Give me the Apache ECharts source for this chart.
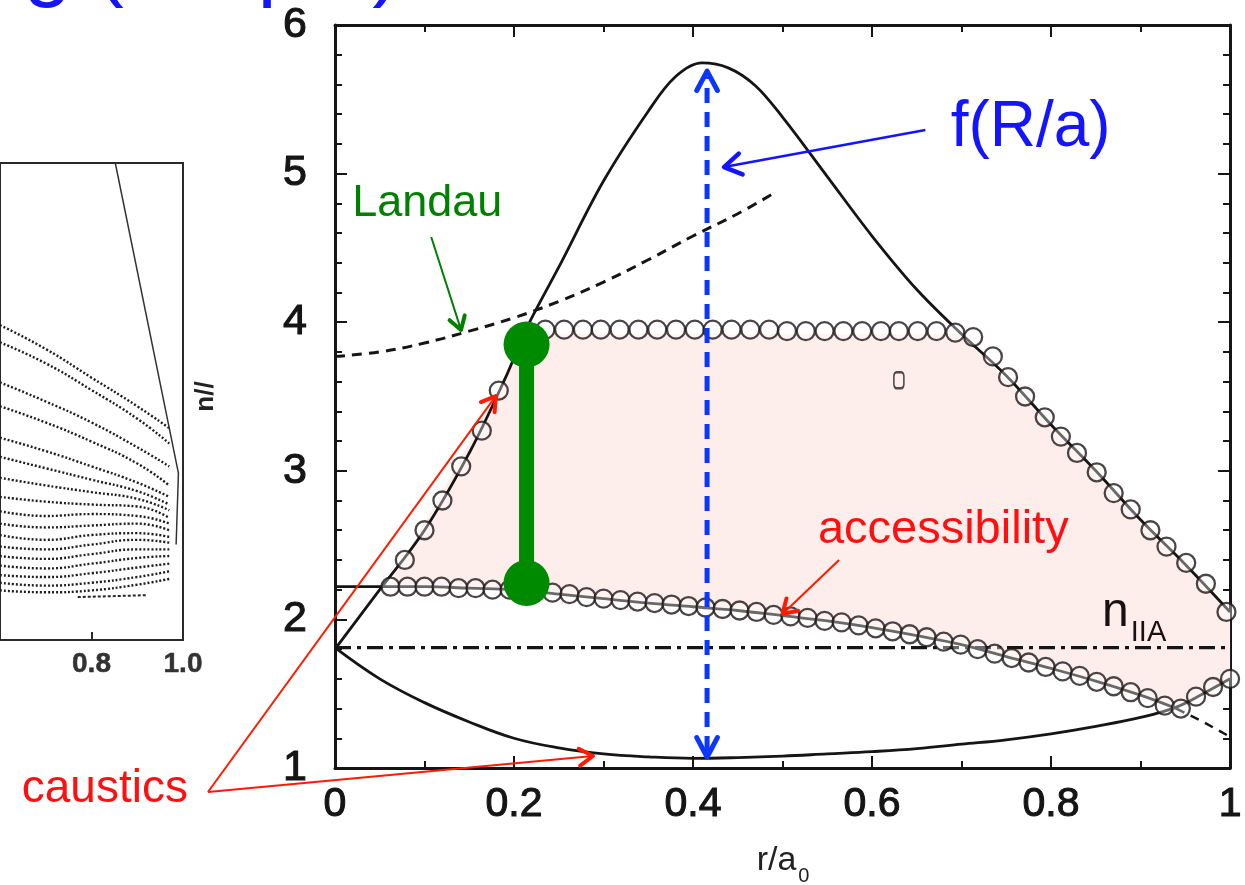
<!DOCTYPE html>
<html><head><meta charset="utf-8">
<script src="https://cdn.jsdelivr.net/npm/echarts@6/dist/echarts.min.js"></script>
<style>html,body{margin:0;padding:0;background:#fff}#c{width:1245px;height:885px}</style>
</head><body><div id="c"></div>
<script>
// ---------------- data ----------------
const upperCaustic = [[0,1.80],[0.05,2.20],[0.1,2.60],[0.15,3.12],[0.19,3.62],[0.215,3.97],[0.25,4.37],[0.3,4.95],[0.35,5.42],[0.38,5.65],[0.41,5.745],[0.44,5.71],[0.47,5.59],[0.5,5.38],[0.55,4.98],[0.6,4.58],[0.65,4.22],[0.7,3.92],[0.75,3.64],[0.8,3.31],[0.85,3.00],[0.9,2.67],[0.95,2.37],[1.0,2.05]];
const lowerCaustic = [[0,1.81],[0.05,1.60],[0.1,1.44],[0.15,1.31],[0.2,1.20],[0.25,1.135],[0.3,1.095],[0.35,1.075],[0.4,1.065],[0.45,1.07],[0.5,1.08],[0.55,1.095],[0.6,1.11],[0.65,1.13],[0.7,1.16],[0.75,1.19],[0.8,1.23],[0.85,1.28],[0.9,1.34],[0.94,1.41],[0.97,1.50],[1.0,1.60]];
const landau = [[0,3.77],[0.05,3.80],[0.1,3.86],[0.15,3.94],[0.2,4.03],[0.25,4.14],[0.3,4.27],[0.35,4.42],[0.4,4.58],[0.45,4.73],[0.488,4.86]];
const nParA = [[0,1.81],[1,1.81]];
const accessLine = [[0,2.22],[0.05,2.22],[0.1,2.22],[0.15,2.21],[0.2,2.20],[0.25,2.17],[0.3,2.14],[0.35,2.11],[0.4,2.085],[0.45,2.06],[0.5,2.025],[0.55,1.99],[0.6,1.945],[0.65,1.89],[0.7,1.83],[0.75,1.75],[0.8,1.67],[0.85,1.585],[0.9,1.49],[0.94,1.40]];
const accessTail = [[0.94,1.40],[0.97,1.31],[1.0,1.21]];
const risingMarkers = [[0.078,2.40],[0.100,2.60],[0.120,2.80],[0.141,3.03],[0.164,3.27],[0.183,3.54]];
const plateauMarkers = [[0.235,3.95],[0.256,3.95],[0.277,3.95],[0.297,3.95],[0.318,3.95],[0.339,3.95],[0.360,3.95],[0.381,3.95],[0.402,3.95],[0.422,3.95],[0.443,3.95],[0.464,3.95],[0.485,3.95],[0.505,3.94],[0.526,3.94],[0.547,3.94],[0.568,3.94],[0.589,3.94],[0.610,3.94],[0.630,3.94],[0.651,3.94],[0.672,3.94],[0.693,3.93]];
const descendMarkers = [[0.713,3.90],[0.735,3.77],[0.752,3.63],[0.771,3.50],[0.793,3.36],[0.811,3.23],[0.829,3.12],[0.851,2.99],[0.870,2.85],[0.889,2.74],[0.911,2.60],[0.929,2.49],[0.951,2.38],[0.973,2.24],[0.996,2.05]];
const accessMarkers = [[0.062,2.22],[0.081,2.22],[0.100,2.22],[0.119,2.22],[0.138,2.21],[0.157,2.21],[0.176,2.20],[0.195,2.20],[0.243,2.18],[0.262,2.17],[0.281,2.15],[0.300,2.14],[0.319,2.13],[0.338,2.12],[0.357,2.11],[0.376,2.10],[0.395,2.09],[0.414,2.08],[0.433,2.07],[0.452,2.06],[0.471,2.05],[0.490,2.03],[0.509,2.02],[0.528,2.01],[0.547,1.99],[0.566,1.98],[0.585,1.96],[0.604,1.94],[0.623,1.92],[0.642,1.90],[0.661,1.88],[0.680,1.85],[0.699,1.83],[0.718,1.80],[0.737,1.77],[0.756,1.74],[0.775,1.71],[0.794,1.68],[0.813,1.65],[0.832,1.62],[0.851,1.58],[0.870,1.55],[0.889,1.51],[0.908,1.47],[0.927,1.42],[0.945,1.40],[0.962,1.48],[0.981,1.545],[1.0,1.60]];
const squareMarker = [[0.630,3.61]];
const accessibleRegion = [[0.06,2.22],[0.19,3.62],[0.215,3.92],[0.70,3.92],[1.0,2.05],[1.0,1.60],[0.97,1.50],[0.94,1.40],[0.9,1.49],[0.85,1.585],[0.8,1.67],[0.75,1.75],[0.7,1.83],[0.65,1.89],[0.6,1.945],[0.55,1.99],[0.5,2.025],[0.45,2.06],[0.4,2.085],[0.35,2.11],[0.3,2.14],[0.25,2.17],[0.2,2.20],[0.15,2.21],[0.1,2.22]];
const landauRange = [[0.214,2.245],[0.214,3.85]];
const fRaRange = [[0.4157,1.074],[0.4157,5.69]];
// left (scanned) panel: ray trajectories n// at r/a = rayX
const rayX = [0.6,0.7,0.8,0.9,0.97];
const rays = [
  [4.30,4.05,3.75,3.45,3.22],[4.12,3.90,3.62,3.32,3.06],[3.70,3.50,3.28,3.02,2.82],[3.45,3.28,3.08,2.85,2.62],
  [3.12,2.98,2.82,2.65,2.50],[2.92,2.80,2.68,2.56,2.42],[2.70,2.62,2.55,2.48,2.36],[2.50,2.45,2.42,2.40,2.28],
  [2.35,2.30,2.32,2.30,2.22],[2.22,2.18,2.20,2.22,2.15],[2.10,2.05,2.10,2.12,2.08],[1.98,1.95,2.00,2.05,2.02],
  [1.88,1.85,1.90,1.95,1.95],[1.78,1.75,1.80,1.86,1.88],[1.68,1.66,1.70,1.76,1.80],[1.60,1.57,1.60,1.66,1.72],
  [1.52,1.50,1.52,1.58,1.64]
];
const shortRay = [[0.77,1.45],[0.85,1.46],[0.92,1.47]];
const leftCaustic = [[0.852,6.0],[0.99,2.75],[0.985,2.0]];
// annotations (anchors in data coordinates of the main panel)
const labelTexts = [
  {t:'f(R/a)', p:[0.7772,5.307], size:64, color:'#1414ff', align:'center'},
  {t:'Landau', p:[0.1031,4.795], size:45, color:'#008000', align:'center'},
  {t:'accessibility', p:[0.6796,2.602], size:47, color:'#ff1010', align:'center'},
  {t:'caustics', p:[-0.2572,0.8587], size:46, color:'#ff1010', align:'center'},
  {t:'n', p:[0.857,2.043], size:48, color:'#1a1010', align:'left'},
  {t:'IIA', p:[0.8891,1.9085], size:29, color:'#1a1010', align:'left'},
  {t:'r/a', p:[0.4933,0.374], size:34, color:'#222', align:'center'},
  {t:'0', p:[0.5177,0.273], size:20, color:'#222', align:'left'}
];
const annotationArrows = [
  {from:[0.6596,5.293], to:[0.4346,5.044], color:'#1414ff', w:2.5, head:20},
  {from:[0.1075,4.573], to:[0.1408,3.948], color:'#008000', w:2, head:15},
  {from:[0.5632,2.40], to:[0.50,2.036], color:'#ff1a00', w:2, head:16},
  {from:[-0.1419,0.8385], to:[0.1796,3.503], color:'#ff1a00', w:2, head:16},
  {from:[-0.1419,0.8385], to:[0.2882,1.0808], color:'#ff1a00', w:2, head:16}
];

// ---------------- chart ----------------
const FONT = '"Liberation Sans", Arial, Helvetica, sans-serif';
const INK = '#151515';
const chart = echarts.init(document.getElementById('c'));

function chevron(p0, p1, len, deg, color, w) {
  const ang = Math.atan2(p1[1]-p0[1], p1[0]-p0[0]);
  const a = deg*Math.PI/180;
  return {type:'polyline', shape:{points:[
    [p1[0]-len*Math.cos(ang-a), p1[1]-len*Math.sin(ang-a)], p1,
    [p1[0]-len*Math.cos(ang+a), p1[1]-len*Math.sin(ang+a)]]},
    style:{stroke:color, lineWidth:w, fill:null, lineCap:'round', lineJoin:'round'}};
}

const mainAxisCommon = {
  type:'value', gridIndex:0,
  axisLine:{show:true, onZero:false, lineStyle:{color:INK, width:3}},
  axisTick:{show:true, inside:true, length:12, lineStyle:{color:INK, width:2}},
  splitLine:{show:false}
};

const series = [];
series.push({type:'custom', xAxisIndex:0, yAxisIndex:0, z:1, silent:true, data:[[0.5,3]],
  renderItem:(params, api) => ({type:'polygon', shape:{points: accessibleRegion.map(p=>api.coord(p))}, style:{fill:'#fdeeec'}})});

rays.forEach(r => series.push({type:'line', xAxisIndex:2, yAxisIndex:2, data:rayX.map((x,i)=>[x,r[i]]), smooth:true, symbol:'none', silent:true,
  lineStyle:{color:'#1e1e1e', width:2.4, type:[2,2]}}));
series.push({type:'line', xAxisIndex:2, yAxisIndex:2, data:shortRay, symbol:'none', silent:true, lineStyle:{color:'#262626', width:2, type:[3,2]}});
series.push({type:'line', xAxisIndex:2, yAxisIndex:2, data:leftCaustic, symbol:'none', silent:true, lineStyle:{color:'#333', width:1.5}});

const lineCommon = {type:'line', xAxisIndex:0, yAxisIndex:0, symbol:'none', silent:true, z:2};
series.push(Object.assign({}, lineCommon, {data:upperCaustic, smooth:0.35, lineStyle:{color:INK, width:2.8}}));
series.push(Object.assign({}, lineCommon, {data:lowerCaustic, smooth:0.4, lineStyle:{color:INK, width:2.8}}));
series.push(Object.assign({}, lineCommon, {data:landau, smooth:0.4, lineStyle:{color:INK, width:3, type:[10,7]}}));
series.push(Object.assign({}, lineCommon, {data:nParA, lineStyle:{color:INK, width:3.2, type:[16,6,4,6]}}));
series.push(Object.assign({}, lineCommon, {data:accessLine, smooth:0.4, lineStyle:{color:INK, width:2.8}}));
series.push(Object.assign({}, lineCommon, {data:accessTail, lineStyle:{color:INK, width:2.5, type:[9,7]}}));

const markerStyle = {color:'rgba(255,255,255,0.45)', borderColor:'#1e1616', borderWidth:2.3};
[risingMarkers, plateauMarkers, descendMarkers, accessMarkers].forEach(m => series.push({type:'scatter', xAxisIndex:0, yAxisIndex:0, data:m,
  symbol:'circle', symbolSize:18, itemStyle:markerStyle, silent:true, z:3}));
series.push({type:'scatter', xAxisIndex:0, yAxisIndex:0, data:squareMarker, symbol:'roundRect', symbolSize:[10,16],
  itemStyle:{color:'rgba(255,255,255,0)', borderColor:'#222', borderWidth:2}, silent:true, z:3});

series.push({type:'line', xAxisIndex:0, yAxisIndex:0, data:landauRange, symbol:'circle', symbolSize:46, showSymbol:true, silent:true, z:5,
  itemStyle:{color:'#008a00'}, lineStyle:{color:'#008a00', width:15}});

series.push({type:'custom', xAxisIndex:0, yAxisIndex:0, z:6, silent:true, data:[[0.5,3]],
  renderItem:(params, api) => {
    const a = api.coord(fRaRange[0]), b = api.coord(fRaRange[1]);
    return {type:'group', children:[
      {type:'line', shape:{x1:a[0], y1:a[1]-6, x2:b[0], y2:b[1]+6}, style:{stroke:'#0a36ff', lineWidth:5, lineDash:[15,9]}},
      chevron(a, b, 22, 28, '#0a36ff', 5), chevron(b, a, 22, 28, '#0a36ff', 5)]};
  }});

series.push({type:'custom', xAxisIndex:0, yAxisIndex:0, z:7, silent:true, data:[[0.5,3]],
  renderItem:(params, api) => {
    const children = [];
    annotationArrows.forEach(ar => {
      const p0 = api.coord(ar.from), p1 = api.coord(ar.to);
      children.push({type:'line', shape:{x1:p0[0], y1:p0[1], x2:p1[0], y2:p1[1]}, style:{stroke:ar.color, lineWidth:ar.w}});
      children.push(chevron(p0, p1, ar.head, 32, ar.color, ar.w+2));
    });
    labelTexts.forEach(l => {
      const p = api.coord(l.p);
      children.push({type:'text', x:p[0], y:p[1], style:{text:l.t, fill:l.color, font:l.size+'px '+FONT, align:l.align, verticalAlign:'middle'}});
    });
    return {type:'group', children};
  }});

chart.setOption({
  animation:false,
  backgroundColor:'#fff',
  graphic:[{type:'text', x:401, y:-34, style:{text:'Ray tracing (simple)', font:'86px '+FONT, fill:'#1414ff', align:'right', verticalAlign:'middle'}}],
  grid:[
    {left:335, top:25, width:902, height:743, show:false},
    {left:-9, top:163, width:192, height:477, show:true, borderColor:'#2a2a2a', borderWidth:2, backgroundColor:'#fff'}
  ],
  xAxis:[
    Object.assign({}, mainAxisCommon, {position:'bottom', min:0, max:1, interval:0.2,
      minorTick:{show:true, splitNumber:2, length:7, lineStyle:{color:INK, width:2}},
      axisLabel:{margin:16, fontSize:41, fontFamily:FONT, color:INK, textBorderColor:INK, textBorderWidth:1.1,
        formatter:v => (v===0||v===1) ? String(v) : v.toFixed(1)}}),
    Object.assign({}, mainAxisCommon, {position:'top', min:0, max:1, interval:0.2,
      minorTick:{show:true, splitNumber:2, length:7, lineStyle:{color:INK, width:2}}, axisLabel:{show:false}}),
    {type:'value', gridIndex:1, min:0.6, max:1, interval:0.2, position:'bottom',
      axisLine:{show:true, onZero:false, lineStyle:{color:'#2a2a2a', width:2}},
      axisTick:{show:true, inside:true, length:8, lineStyle:{color:'#2a2a2a', width:2}},
      splitLine:{show:false},
      axisLabel:{showMinLabel:false, margin:10, fontSize:28, fontWeight:'bold', fontFamily:FONT, color:'#333', textBorderColor:'#333', textBorderWidth:0.5,
        formatter:v => v.toFixed(1)}}
  ],
  yAxis:[
    Object.assign({}, mainAxisCommon, {position:'left', min:1, max:6, interval:1,
      minorTick:{show:true, splitNumber:5, length:7, lineStyle:{color:INK, width:2}},
      name:'n//', nameLocation:'middle', nameRotate:90, nameGap:116,
      nameTextStyle:{fontSize:26, fontFamily:FONT, color:'#222', fontWeight:'bold'},
      axisLabel:{margin:28, fontSize:43, fontFamily:FONT, color:INK, textBorderColor:INK, textBorderWidth:1.1}}),
    Object.assign({}, mainAxisCommon, {position:'right', min:1, max:6, interval:1,
      minorTick:{show:true, splitNumber:5, length:7, lineStyle:{color:INK, width:2}}, axisLabel:{show:false}}),
    {type:'value', gridIndex:1, min:1, max:6, interval:1, show:false}
  ],
  series
});
</script></body></html>
